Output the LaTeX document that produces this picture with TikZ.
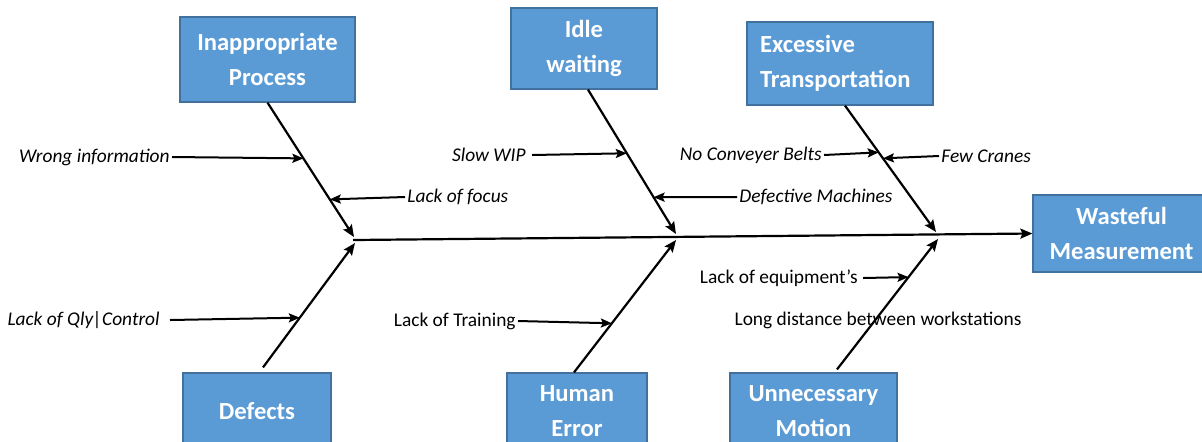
\documentclass[tikz,border=0pt]{standalone}
\usepackage{fontspec}
\setmainfont{Carlito}
\usetikzlibrary{arrows.meta,calc}
\definecolor{boxblue}{HTML}{5B9BD5}
\definecolor{boxedge}{HTML}{41719C}
\begin{document}
\begin{tikzpicture}[x=0.5pt,y=-0.5pt,
  cause/.style={draw=boxedge,line width=0.6pt,fill=boxblue,text=white,
    font=\fontsize{12.3}{17.5}\selectfont\bfseries,align=center,inner sep=0pt},
  bone/.style={line width=1.1pt,-{Stealth[length=6pt,width=5pt,inset=1pt]}},
  subarrow/.style={line width=1pt,-{Stealth[length=5.5pt,width=4.5pt,inset=1pt]}},
  lbl/.style={font=\fontsize{9.7}{11}\selectfont\itshape,inner sep=1pt},
  lbln/.style={font=\fontsize{9.7}{11}\selectfont,inner sep=1pt}]
\useasboundingbox (0,0) rectangle (1202,441);
\clip (0,0) rectangle (1202,441);
% cause boxes
\node[cause,minimum width=87.5pt,minimum height=42.5pt] (ip) at (267.5,59.5) {Inappropriate\\Process};
\node[cause,minimum width=73pt,minimum height=40.5pt] (iw) at (584,48.5) {Idle\\waiting};
\node[cause,minimum width=93pt,minimum height=41.5pt,align=left,text width=80pt,inner xsep=6.5pt] (et) at (840,63.5) {Excessive\\Transportation};
\node[cause,minimum width=88.5pt,minimum height=38.5pt] (wm) at (1121.5,233.5) {Wasteful\\Measurement};
\node[cause,minimum width=74pt,minimum height=38.5pt] (df) at (257,411.5) {Defects};
\node[cause,minimum width=70pt,minimum height=38.5pt] (he) at (577,411.5) {Human\\Error};
\node[cause,minimum width=83.5pt,minimum height=38.5pt] (um) at (813.5,411.5) {Unnecessary\\Motion};
% joints on the spine
\coordinate (sp) at (353,240);
\coordinate (jA) at (354,237);
\coordinate (jD) at (355,243);
\coordinate (jI) at (676,234);
\coordinate (jH) at (676,240);
\coordinate (jE) at (936,232);
\coordinate (jM) at (938,239);
\coordinate (sA) at (ip.south);
\coordinate (sI) at ([xshift=2pt]iw.south);
\coordinate (sE) at ([xshift=2.5pt]et.south);
\coordinate (sD) at ([xshift=3pt,yshift=2.5pt]df.north);
\coordinate (sH) at ([xshift=-1.5pt]he.north);
\coordinate (sM) at ([xshift=11.75pt,yshift=1.5pt]um.north);
% spine
\draw[bone] (sp) -- (wm.west);
% bones
\draw[bone] (sA) -- (jA);
\draw[bone] (sI) -- (jI);
\draw[bone] (sE) -- (jE);
\draw[bone] (sD) -- (jD);
\draw[bone] (sH) -- (jH);
\draw[bone] (sM) -- (jM);
% sub-causes
\node[lbl,anchor=east] (wi) at (172,157) {Wrong information};
\draw[subarrow] (wi.east) -- ($(sA)!0.415!(jA)$);
\node[lbl,anchor=west] (lf) at (405,197) {Lack of focus};
\draw[subarrow] (lf.west) -- ($(sA)!0.72!(jA)$);
\node[lbl,anchor=east] (qc) at (162,320) {Lack of Qly|Control};
\draw[subarrow] ([xshift=4pt]qc.east) -- ($(sD)!0.4!(jD)$);
\node[lbl,anchor=east] (sw) at (528,155) {Slow WIP};
\draw[subarrow] ([xshift=2pt]sw.east) -- ($(sI)!0.441!(jI)$);
\node[lbl,anchor=west] (dm) at (737,197) {Defective Machines};
\draw[subarrow] (dm.west) -- ($(sI)!0.745!(jI)$);
\node[lbln,anchor=east] (lt) at (518,321) {Lack of Training};
\draw[subarrow] (lt.east) -- ($(sH)!0.371!(jH)$);
\node[lbl,anchor=east] (cb) at (824,155) {No Conveyer Belts};
\draw[subarrow] (cb.east) -- ($(sE)!0.37!(jE)$);
\node[lbl,anchor=west] (fc) at (939,156) {Few Cranes};
\draw[subarrow] (fc.west) -- ($(sE)!0.417!(jE)$);
\node[lbln,anchor=east] (le) at (860,278) {Lack of equipment’s};
\draw[subarrow] ([xshift=1.5pt]le.east) -- ($(sM)!0.708!(jM)$);
\node[lbln] (ld) at (878,320) {Long distance between workstations};
\end{tikzpicture}
\end{document}
